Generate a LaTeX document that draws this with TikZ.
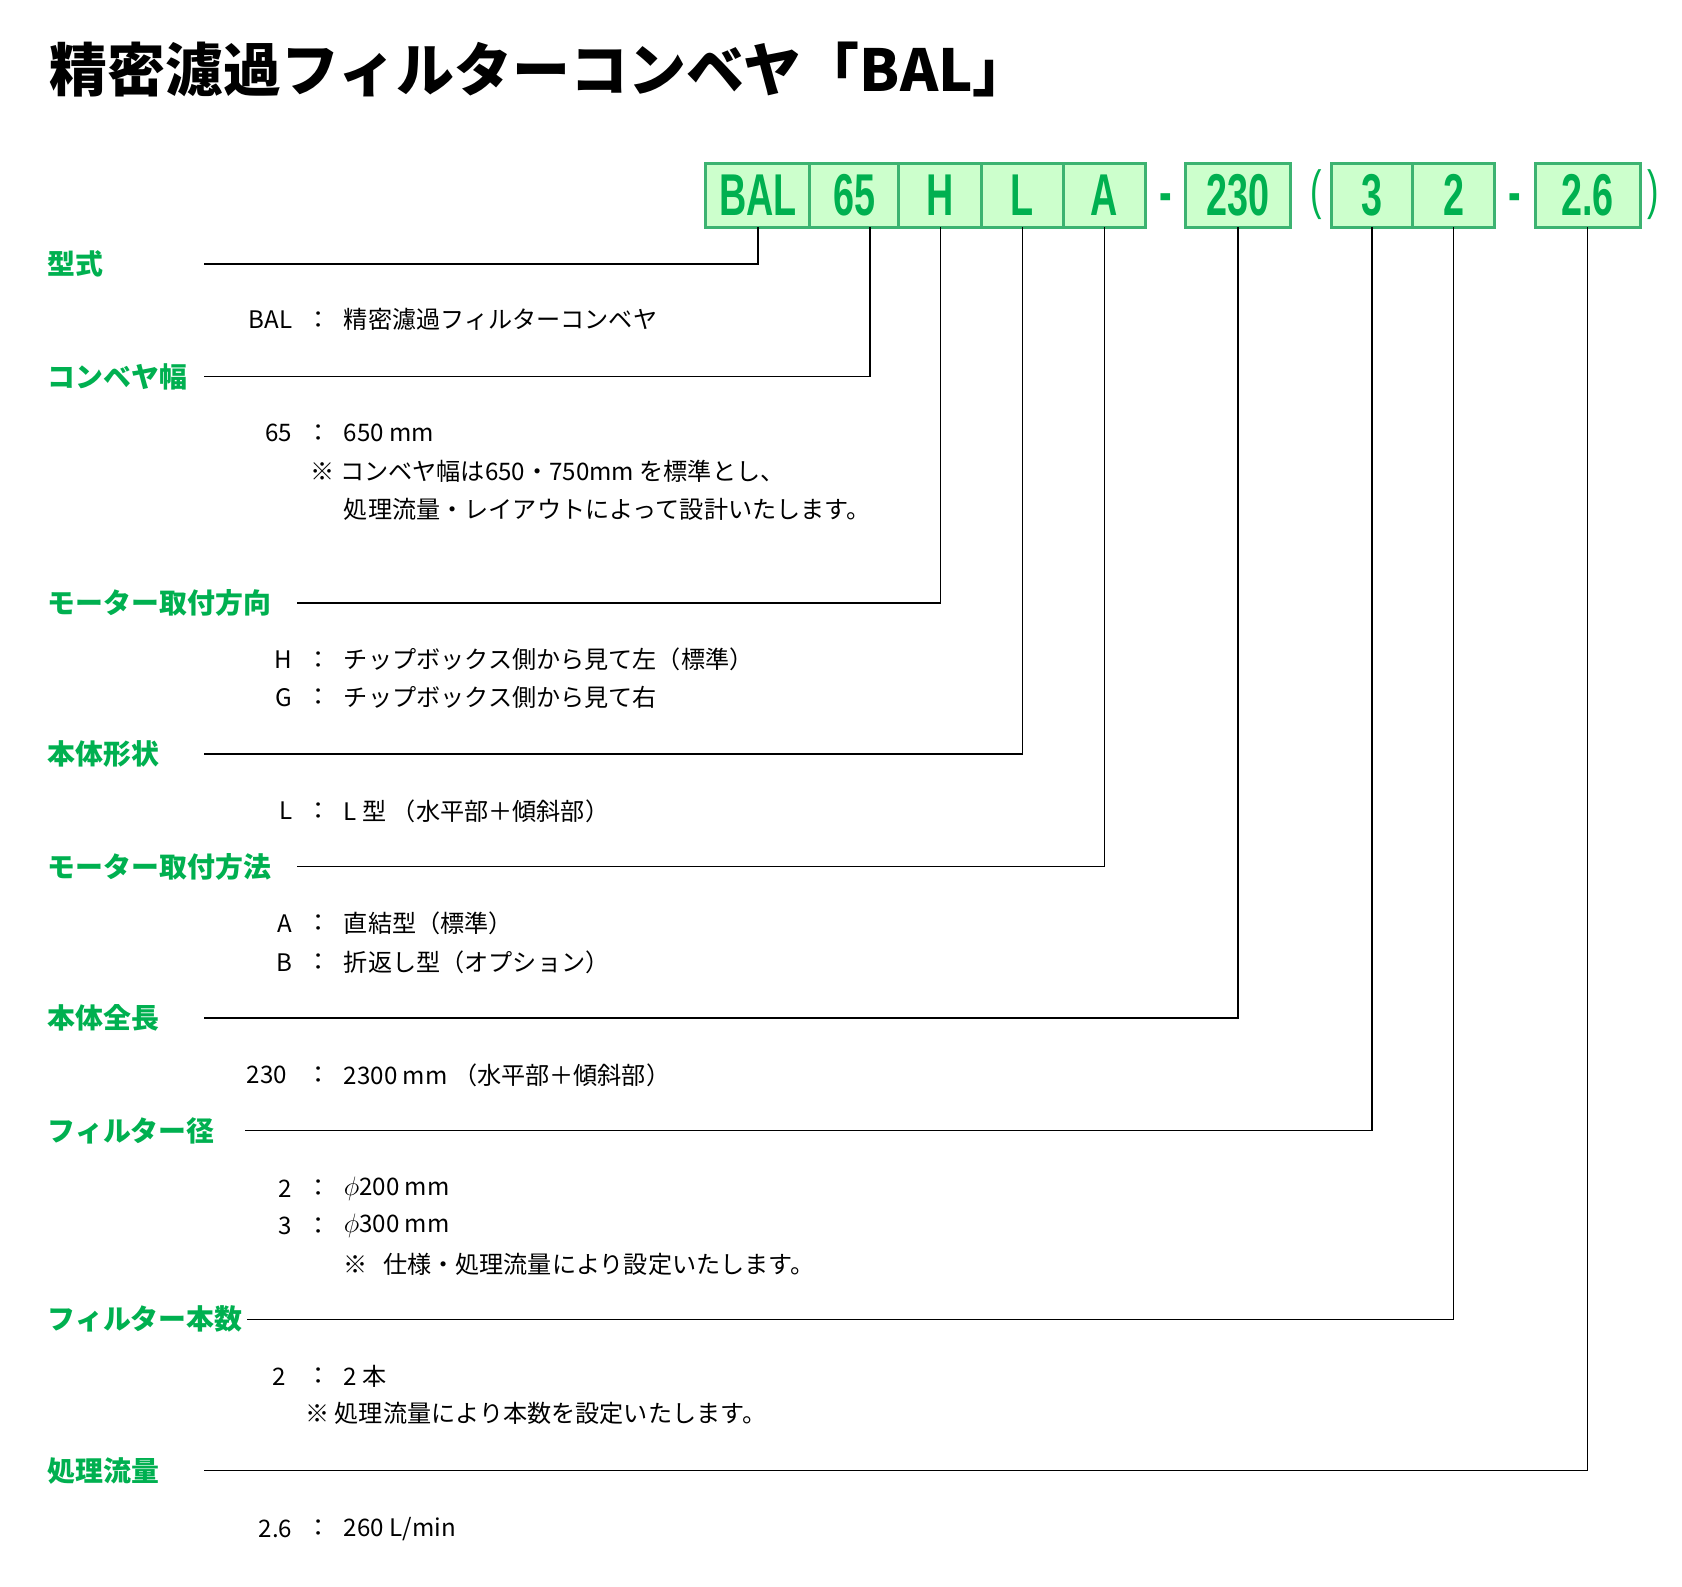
\documentclass[tikz,border=0pt]{standalone}
\usepackage{fontspec}
\usepackage{tikz}
\usetikzlibrary{positioning}
\setmainfont{Noto Sans CJK JP}
\newfontfamily\codefont[FakeStretch=0.64]{Liberation Sans}
\definecolor{codegreen}{HTML}{00B050}
\definecolor{cellfill}{HTML}{CCFFCC}
\definecolor{cellline}{HTML}{3CB371}

\begin{document}
\begin{tikzpicture}[x=1pt,y=-1pt,line width=1.2pt,
  cell/.style={draw=cellline,fill=cellfill,line width=2.8pt,outer sep=0pt,inner sep=0pt,minimum height=60pt,text=codegreen,font=\codefont\bfseries\fontsize{55}{55}\selectfont},
  sep/.style={inner sep=0pt,text=codegreen,font=\codefont\bfseries\fontsize{55}{55}\selectfont},
  paren/.style={inner sep=0pt,text=codegreen,font=\codefont\fontsize{50}{50}\selectfont},
  lbl/.style={anchor=west,inner sep=0pt,text=codegreen,font=\bfseries\fontsize{26}{26}\selectfont},
  key/.style={anchor=east,inner sep=0pt,font=\fontsize{22.5}{22.5}\selectfont},
  colon/.style={inner sep=0pt,font=\fontsize{22.5}{22.5}\selectfont},
  desc/.style={anchor=west,inner sep=0pt,font=\fontsize{22.5}{22.5}\selectfont}]

\useasboundingbox (0,0) rectangle (1568,1479.4);

\node[anchor=west,inner sep=0pt,font=\bfseries\fontsize{54}{54}\selectfont] (title) at (46,65) {精密濾過フィルターコンベヤ「BAL」};

% code boxes
\node[cell,minimum width=97pt] (bBAL) at (706.5,182) {BAL};
\node[cell,minimum width=83pt,right=0pt of bBAL] (b65) {65};
\node[cell,minimum width=77pt,right=0pt of b65] (bH) {H};
\node[cell,minimum width=76pt,right=0pt of bH] (bL) {L};
\node[cell,minimum width=77pt,right=0pt of bL] (bA) {A};
\node[sep] (dash1) at (1087,189) {-};
\node[cell,minimum width=98pt] (b230) at (1154,182) {230};
\node[paren] (parL) at (1227,181) {(};
\node[cell,minimum width=76pt] (b3) at (1279,182) {3};
\node[cell,minimum width=76pt,right=0pt of b3] (b2) {2};
\node[sep] (dash2) at (1412,189) {-};
\node[cell,minimum width=98pt] (b26) at (1480,182) {2.6};
\node[paren] (parR) at (1541,181) {)};

% headings
\node[lbl] (lModel) at (44,246) {型式};
\node[lbl] (lWidth) at (44,351) {コンベヤ幅};
\node[lbl] (lDir) at (44,562) {モーター取付方向};
\node[lbl] (lShape) at (44,703) {本体形状};
\node[lbl] (lMount) at (44,808) {モーター取付方法};
\node[lbl] (lLength) at (44,949) {本体全長};
\node[lbl] (lDia) at (44,1054) {フィルター径};
\node[lbl] (lNum) at (44,1230) {フィルター本数};
\node[lbl] (lFlow) at (44,1371) {処理流量};

\coordinate (sModel) at (190,246);
\coordinate (sWidth) at (190,351);
\coordinate (sDir) at (277,562);
\coordinate (sShape) at (190,703);
\coordinate (sMount) at (277,808);
\coordinate (sLength) at (190,949);
\coordinate (sDia) at (228,1054);
\coordinate (sNum) at (230,1230);
\coordinate (sFlow) at (190,1371);

\draw (bBAL.south) |- (sModel);
\draw ([xshift=14.5pt]b65.south) |- (sWidth);
\draw (bH.south) |- (sDir);
\draw (bL.south) |- (sShape);
\draw (bA.south) |- (sMount);
\draw (b230.south) |- (sLength);
\draw (b3.south) |- (sDia);
\draw (b2.south) |- (sNum);
\draw (b26.south) |- (sFlow);

% entries
\node[key] (kBAL) at (273,298) {BAL};
\node[colon] (cBAL) at (297,298) {：};
\node[desc] (tBAL) at (320,298) {精密濾過フィルターコンベヤ};

\node[key] (k65) at (273,404) {65};
\node[colon] (c65) at (297,404) {：};
\node[desc] (t65) at (320,404) {650 mm};
\node[desc] (n65a) at (289,439) {※ コンベヤ幅は650・750mm を標準とし、};
\node[desc] (n65b) at (320,475) {処理流量・レイアウトによって設計いたします。};

\node[key] (kH) at (273,615) {H};
\node[colon] (cH) at (297,615) {：};
\node[desc] (tH) at (320,615) {チップボックス側から見て左（標準）};
\node[key] (kG) at (273,650) {G};
\node[colon] (cG) at (297,650) {：};
\node[desc] (tG) at (320,650) {チップボックス側から見て右};

\node[key] (kL) at (273,756) {L};
\node[colon] (cL) at (297,756) {：};
\node[desc] (tL) at (320,756) {L 型 （水平部＋傾斜部）};

\node[key] (kA) at (273,861) {A};
\node[colon] (cA) at (297,861) {：};
\node[desc] (tA) at (320,861) {直結型（標準）};
\node[key] (kB) at (273,897) {B};
\node[colon] (cB) at (297,897) {：};
\node[desc] (tB) at (320,897) {折返し型（オプション）};

\node[key] (k230) at (268,1002) {230};
\node[colon] (c230) at (297,1002) {：};
\node[desc] (t230) at (320,1002) {2300 mm （水平部＋傾斜部）};

\node[key] (kD2) at (273,1108) {2};
\node[colon] (cD2) at (297,1108) {：};
\node[desc] (tD2) at (320,1108) {{\fontsize{25}{25}\selectfont$\phi$}200 mm};
\node[key] (kD3) at (273,1143) {3};
\node[colon] (cD3) at (297,1143) {：};
\node[desc] (tD3) at (320,1143) {{\fontsize{25}{25}\selectfont$\phi$}300 mm};
\node[desc] (nDia) at (320,1179) {※\hspace{14pt}仕様・処理流量により設定いたします。};

\node[key] (kN2) at (267,1283) {2};
\node[colon] (cN2) at (297,1283) {：};
\node[desc] (tN2) at (320,1283) {2 本};
\node[desc] (nNum) at (284,1318) {※ 処理流量により本数を設定いたします。};

\node[key] (k26) at (273,1425) {2.6};
\node[colon] (c26) at (297,1425) {：};
\node[desc] (t26) at (320,1425) {260 L/min};
\end{tikzpicture}
\end{document}
